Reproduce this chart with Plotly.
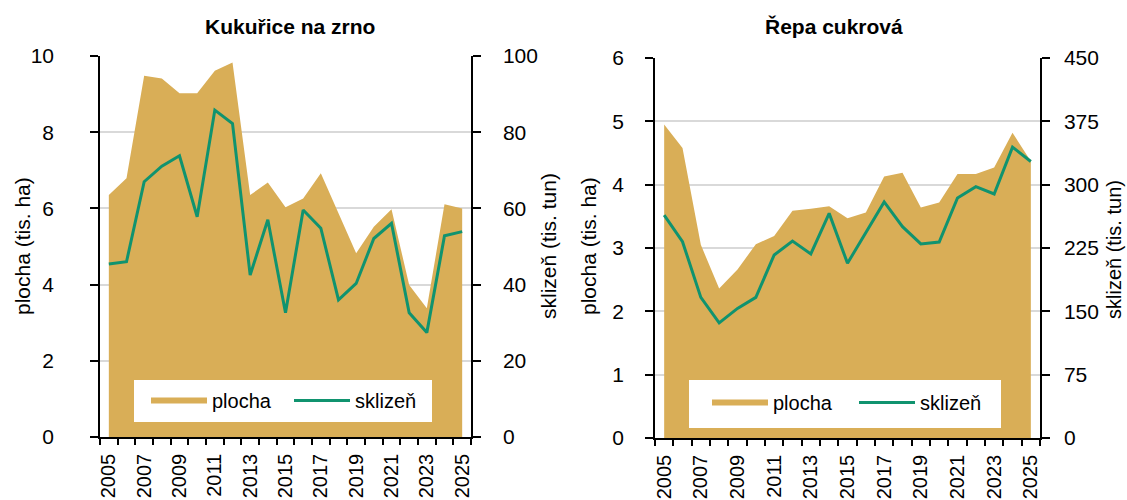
import plotly.graph_objects as go

# ---------------- data ----------------
years = list(range(2005, 2026))
tick_years = list(range(2005, 2026, 2))
tick_labels = [str(y) for y in tick_years]

kuk_plocha = [6.35, 6.79, 9.48, 9.41, 9.02, 9.02, 9.61, 9.83, 6.35, 6.68, 6.03,
              6.26, 6.92, 5.87, 4.82, 5.52, 5.98, 3.99, 3.38, 6.11, 6.00]
kuk_sklizen = [45.4, 46.0, 67.0, 71.1, 73.8, 57.8, 85.8, 82.3, 42.5, 57.0, 32.6,
               59.6, 54.8, 36.0, 40.3, 52.1, 56.1, 32.6, 27.4, 52.8, 53.9]
repa_plocha = [4.95, 4.58, 3.05, 2.36, 2.66, 3.06, 3.19, 3.59, 3.62, 3.66, 3.47,
               3.56, 4.13, 4.19, 3.64, 3.72, 4.17, 4.17, 4.27, 4.82, 4.37]
repa_sklizen = [264, 232.5, 166.5, 136.4, 153.5, 166.5, 216.7, 233.3, 218, 266, 206.9,
                243, 279.6, 250.3, 229.8, 232, 284.3, 297.7, 289, 344.5, 327.4]

titles = ["Kukuřice na zrno", "Řepa cukrová"]
ytitle_left = "plocha (tis. ha)"
ytitle_right = "sklizeň (tis. tun)"

# ---------------- style ----------------
OFF = 0                      # body margin removed via post_script
W, H = 1127, 500
GOLD = "#D9AE57"
GREEN = "#10936F"
GRID = "#D9D9D9"
FONT = "Liberation Sans, Arial, sans-serif"
FS = 21

def px(x):
    return (x - OFF) / W

def py(y):
    return 1 - (y - OFF) / H

fig = go.Figure()
fig.add_trace(go.Scatter(x=years, y=kuk_plocha, name="plocha", mode="none", fill="tozeroy",
                         fillcolor=GOLD, xaxis="x", yaxis="y", legend="legend"))
fig.add_trace(go.Scatter(x=years, y=kuk_sklizen, name="sklizeň", mode="lines",
                         line=dict(color=GREEN, width=3), xaxis="x", yaxis="y2", legend="legend"))
fig.add_trace(go.Scatter(x=years, y=repa_plocha, name="plocha", mode="none", fill="tozeroy",
                         fillcolor=GOLD, xaxis="x2", yaxis="y3", legend="legend2"))
fig.add_trace(go.Scatter(x=years, y=repa_sklizen, name="sklizeň", mode="lines",
                         line=dict(color=GREEN, width=3), xaxis="x2", yaxis="y4", legend="legend2"))

boundaries = [years[0] - 0.5 + i for i in range(len(years) + 1)]

def xax(domain, anchor):
    return dict(domain=domain, anchor=anchor, range=[years[0] - 0.5, years[-1] + 0.5],
                tickmode="array", tickvals=tick_years, ticktext=tick_labels, tickangle=-90,
                ticks="", showgrid=False, zeroline=False, showline=True, linecolor="black",
                linewidth=1.5, automargin=False, ticklabelstandoff=7,
                tickfont=dict(family=FONT, size=20, color="black"),
                minor=dict(tickmode="array", tickvals=boundaries, ticks="outside", ticklen=6,
                           tickwidth=1.5, tickcolor="black", showgrid=False))

def yax_left(domain, anchor, rng, dt, standoff):
    return dict(domain=domain, anchor=anchor, range=rng, dtick=dt, tick0=0, ticks="outside",
                ticklen=8, tickwidth=1.5, tickcolor="black", showline=True, linecolor="black",
                linewidth=1.5, showgrid=True, gridcolor=GRID, gridwidth=2, zeroline=False,
                automargin=False, ticklabelstandoff=standoff,
                tickfont=dict(family=FONT, size=FS, color="black"))

def yax_right(overlay, anchor, rng, dt, standoff):
    return dict(overlaying=overlay, anchor=anchor, side="right", range=rng, dtick=dt, tick0=0,
                ticks="outside", ticklen=8, tickwidth=1.5, tickcolor="black", showline=True,
                linecolor="black", linewidth=1.5, showgrid=False, zeroline=False,
                automargin=False, ticklabelstandoff=standoff,
                tickfont=dict(family=FONT, size=FS, color="black"))

dom_x1 = [px(100), px(471)]
dom_y1 = [py(437), py(56)]
dom_x2 = [px(655), px(1040)]
dom_y2 = [py(438), py(58)]

legend_common = dict(orientation="h", xanchor="left", yanchor="top",
                     bgcolor="rgba(0,0,0,0)", borderwidth=0, itemwidth=56,
                     entrywidthmode="pixels",
                     font=dict(family=FONT, size=20, color="black"))

fig.update_layout(
    width=W, height=H, margin=dict(l=0, r=0, t=0, b=0),
    paper_bgcolor="white", plot_bgcolor="white",
    xaxis=xax(dom_x1, "y"),
    yaxis=yax_left(dom_y1, "x", [0, 10], 2, 32),
    yaxis2=yax_right("y", "x", [0, 100], 20, 18),
    xaxis2=xax(dom_x2, "y3"),
    yaxis3=yax_left(dom_y2, "x2", [0, 6], 1, 17),
    yaxis4=yax_right("y3", "x2", [0, 450], 75, 10),
    legend=dict(x=px(146), y=py(381), entrywidth=72, **legend_common),
    legend2=dict(x=px(707), y=py(383), entrywidth=76, **legend_common),
    showlegend=True,
)

# white legend boxes
for (x0, x1, y0, y1) in [(134, 432, 380, 422), (689, 1001, 380, 428)]:
    fig.add_shape(type="rect", xref="paper", yref="paper", x0=px(x0), x1=px(x1),
                  y0=py(y1), y1=py(y0), fillcolor="white", line=dict(width=0), layer="above")

annots = [
    dict(text="<b>" + titles[0] + "</b>", x=px(290), y=py(26), size=FS),
    dict(text="<b>" + titles[1] + "</b>", x=px(834), y=py(26), size=FS),
    dict(text=ytitle_left, x=px(22), y=py(246), textangle=-90, size=FS),
    dict(text=ytitle_right, x=px(548), y=py(246), textangle=-90, size=FS),
    dict(text=ytitle_left, x=px(588), y=py(246), textangle=-90, size=FS),
    dict(text=ytitle_right, x=px(1114), y=py(250), textangle=-90, size=20),
]
for a in annots:
    size = a.pop("size")
    fig.add_annotation(xref="paper", yref="paper", showarrow=False, xanchor="center",
                       yanchor="middle", font=dict(family=FONT, size=size, color="black"), **a)

fig.write_html("out.html", config={"displayModeBar": False},
               post_script="document.body.style.margin='0';document.body.style.overflow='hidden';")
